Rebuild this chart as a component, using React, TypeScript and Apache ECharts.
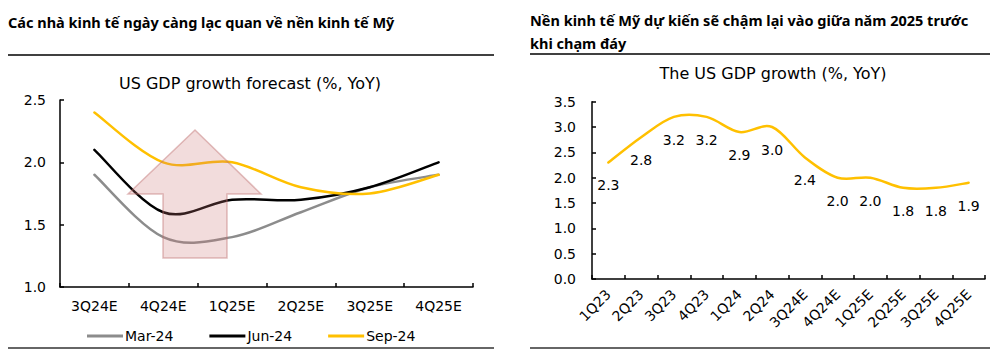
import React, { useEffect, useRef } from "react";
import * as echarts from "echarts";

const leftCategories = ["3Q24E", "4Q24E", "1Q25E", "2Q25E", "3Q25E", "4Q25E"];
const mar24 = [1.9, 1.4, 1.4, 1.6, 1.8, 1.9];
const jun24 = [2.1, 1.6, 1.7, 1.7, 1.8, 2.0];
const sep24 = [2.4, 2.0, 2.0, 1.8, 1.75, 1.9];
const leftSeriesNames = ["Mar-24", "Jun-24", "Sep-24"];

const rightCategories = [
  "1Q23", "2Q23", "3Q23", "4Q23", "1Q24", "2Q24",
  "3Q24E", "4Q24E", "1Q25E", "2Q25E", "3Q25E", "4Q25E",
];
const gdpGrowth = [2.3, 2.8, 3.2, 3.2, 2.9, 3.0, 2.4, 2.0, 2.0, 1.8, 1.8, 1.9];

const leftHeading = "Các nhà kinh tế ngày càng lạc quan về nền kinh tế Mỹ";
const rightHeading1 = "Nền kinh tế Mỹ dự kiến sẽ chậm lại vào giữa năm 2025 trước";
const rightHeading2 = "khi chạm đáy";
const leftChartTitle = "US GDP growth forecast (%, YoY)";
const rightChartTitle = "The US GDP growth (%, YoY)";

const FONT = "DejaVu Sans";
const HEAD_FONT = "Noto Sans";
const YELLOW = "#FFC000";
const GRAY = "#8c8c8c";
const BLACK = "#000000";

// Catmull-Rom style smoothing (like Excel's smoothed line) through screen points
function smoothPath(pts: number[][]): string {
  if (!pts.length) return "";
  let d = `M${pts[0][0]},${pts[0][1]}`;
  for (let i = 0; i < pts.length - 1; i++) {
    const p0 = pts[i - 1] || pts[i];
    const p1 = pts[i];
    const p2 = pts[i + 1];
    const p3 = pts[i + 2] || p2;
    const c1x = p1[0] + (p2[0] - p0[0]) / 6;
    const c1y = p1[1] + (p2[1] - p0[1]) / 6;
    const c2x = p2[0] - (p3[0] - p1[0]) / 6;
    const c2y = p2[1] - (p3[1] - p1[1]) / 6;
    d += ` C${c1x},${c1y} ${c2x},${c2y} ${p2[0]},${p2[1]}`;
  }
  return d;
}

function makeRenderer(values: number[], color: string, withLabels: boolean) {
  return (params: any, api: any) => {
    const children: any[] = [];
    const idx = params.dataIndex;
    if (idx === 0) {
      const pts = values.map((v, i) => api.coord([i, v]));
      children.push({
        type: "path",
        shape: { pathData: smoothPath(pts) },
        style: { fill: "none", stroke: color, lineWidth: 2.5, lineJoin: "round", lineCap: "round" },
      });
    }
    if (withLabels) {
      const p = api.coord([idx, values[idx]]);
      children.push({
        type: "text",
        x: p[0],
        y: p[1] + 23,
        style: {
          text: values[idx].toFixed(1),
          fill: "#000",
          font: `14px "${FONT}"`,
          align: "center",
          verticalAlign: "middle",
        },
      });
    }
    return { type: "group", children };
  };
}

function lineSeries(name: string, values: number[], color: string, axis: number, withLabels: boolean) {
  return {
    name,
    type: "custom",
    coordinateSystem: "cartesian2d",
    xAxisIndex: axis,
    yAxisIndex: axis,
    clip: false,
    data: values.map((v, i) => [i, v]),
    encode: { x: 0, y: 1 },
    itemStyle: { color },
    renderItem: makeRenderer(values, color, withLabels),
  };
}

export default function App() {
  const ref = useRef<HTMLDivElement>(null);

  useEffect(() => {
    if (!ref.current) return;
    const chart = echarts.init(ref.current, undefined, { renderer: "svg" });
    const axisLine = { show: true, lineStyle: { color: "#000", width: 1.5 } };
    const axisTick = { show: true, inside: true, length: 4, lineStyle: { color: "#000", width: 1.5 } };
    const fmt = (v: number) => v.toFixed(1);

    chart.setOption({
      animation: false,
      backgroundColor: "#fff",
      textStyle: { fontFamily: FONT },
      grid: [
        { left: 60, right: 527, top: 100, height: 187, containLabel: false },
        { left: 592, right: 15, top: 101.7, height: 177.3, containLabel: false },
      ],
      legend: {
        left: 82,
        top: 324,
        icon: "rect",
        itemWidth: 36,
        itemHeight: 3,
        itemGap: 36,
        data: leftSeriesNames,
        textStyle: { fontFamily: FONT, fontSize: 14, color: "#000", padding: [0, 0, 0, -3] },
      },
      xAxis: [
        {
          type: "category",
          gridIndex: 0,
          data: leftCategories,
          boundaryGap: true,
          axisLine,
          axisTick,
          axisLabel: { fontFamily: FONT, fontSize: 14, color: "#000", margin: 12 },
          splitLine: { show: false },
        },
        {
          type: "category",
          gridIndex: 1,
          data: rightCategories,
          boundaryGap: true,
          axisLine,
          axisTick,
          axisLabel: { fontFamily: FONT, fontSize: 14, color: "#000", rotate: 45, margin: 13, interval: 0 },
          splitLine: { show: false },
        },
      ],
      yAxis: [
        {
          type: "value",
          gridIndex: 0,
          min: 1.0,
          max: 2.5,
          interval: 0.5,
          axisLine,
          axisTick,
          axisLabel: { fontFamily: FONT, fontSize: 14, color: "#000", margin: 14, formatter: fmt },
          splitLine: { show: false },
        },
        {
          type: "value",
          gridIndex: 1,
          min: 0,
          max: 3.5,
          interval: 0.5,
          axisLine,
          axisTick,
          axisLabel: { fontFamily: FONT, fontSize: 14, color: "#000", margin: 16, formatter: fmt },
          splitLine: { show: false },
        },
      ],
      series: [
        lineSeries(leftSeriesNames[0], mar24, GRAY, 0, false),
        lineSeries(leftSeriesNames[1], jun24, BLACK, 0, false),
        lineSeries(leftSeriesNames[2], sep24, YELLOW, 0, false),
        lineSeries("GDP", gdpGrowth, YELLOW, 1, true),
      ],
      graphic: [
        {
          type: "text",
          left: 8,
          top: 14,
          style: { text: leftHeading, fontFamily: HEAD_FONT, fontWeight: "bold", fontSize: 14.5, fill: "#000" },
        },
        {
          type: "line",
          shape: { x1: 8, y1: 55, x2: 494, y2: 55 },
          style: { stroke: "#000", lineWidth: 1.5 },
        },
        {
          type: "text",
          x: 250,
          y: 83,
          style: {
            text: leftChartTitle,
            font: `16px "${FONT}"`,
            fill: "#000",
            align: "center",
            verticalAlign: "middle",
          },
        },
        {
          type: "polygon",
          z: 100,
          shape: {
            points: [
              [195, 130],
              [261, 194],
              [227, 194],
              [227, 258],
              [163, 258],
              [163, 194],
              [128, 194],
            ],
          },
          style: {
            fill: "rgba(205,120,120,0.26)",
            stroke: "rgba(190,110,110,0.45)",
            lineWidth: 1.5,
          },
        },
        {
          type: "line",
          shape: { x1: 8, y1: 348, x2: 494, y2: 348 },
          style: { stroke: "#333", lineWidth: 1.5 },
        },
        {
          type: "text",
          left: 530,
          top: 12,
          style: { text: rightHeading1, fontFamily: HEAD_FONT, fontWeight: "bold", fontSize: 14.5, fill: "#000" },
        },
        {
          type: "text",
          left: 530,
          top: 35,
          style: { text: rightHeading2, fontFamily: HEAD_FONT, fontWeight: "bold", fontSize: 14.5, fill: "#000" },
        },
        {
          type: "line",
          shape: { x1: 530, y1: 54, x2: 990, y2: 54 },
          style: { stroke: "#000", lineWidth: 1.5 },
        },
        {
          type: "text",
          x: 773,
          y: 73,
          style: {
            text: rightChartTitle,
            font: `16px "${FONT}"`,
            fill: "#000",
            align: "center",
            verticalAlign: "middle",
          },
        },
        {
          type: "line",
          shape: { x1: 530, y1: 348, x2: 990, y2: 348 },
          style: { stroke: "#333", lineWidth: 1.5 },
        },
      ],
    });

    return () => chart.dispose();
  }, []);

  return (
    <div
      ref={ref}
      style={{ position: "absolute", left: 0, top: 0, width: 1000, height: 350 }}
    />
  );
}
